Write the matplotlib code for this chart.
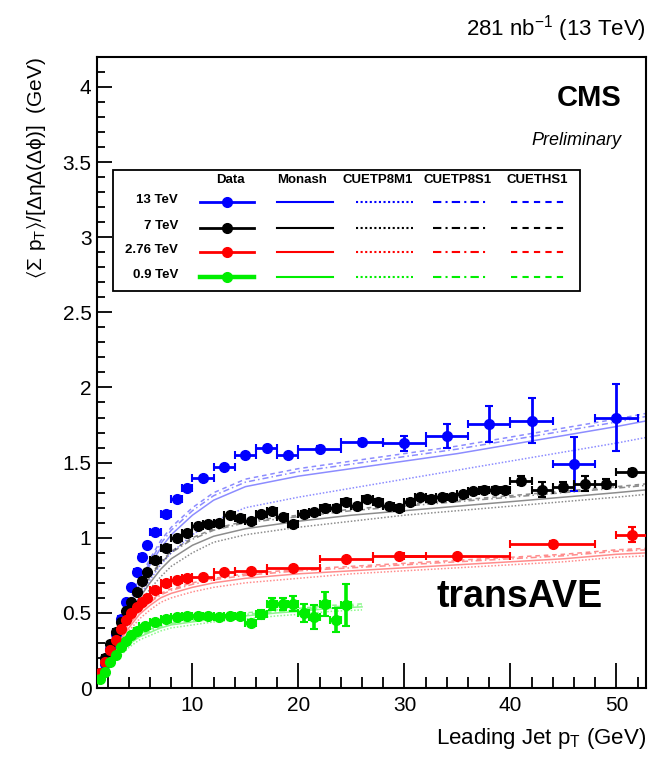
import matplotlib
matplotlib.use("Agg")
import matplotlib.pyplot as plt
from matplotlib.patches import Rectangle
from matplotlib.ticker import MultipleLocator, FuncFormatter

plt.rcParams['font.family'] = ['Liberation Sans Narrow', 'Liberation Sans', 'DejaVu Sans']
plt.rcParams['mathtext.default'] = 'regular'

# ---- data ----
x13 = [1.25, 1.75, 2.25, 2.75, 3.25, 3.75, 4.25, 4.75, 5.25, 5.75, 6.5, 7.5, 8.5, 9.5,
       11, 13, 15, 17, 19, 22, 26, 30, 34, 38, 42, 46, 50]
y13 = [0.08, 0.16, 0.26, 0.36, 0.46, 0.57, 0.67, 0.77, 0.87, 0.95, 1.04, 1.16, 1.26, 1.33,
       1.40, 1.47, 1.55, 1.60, 1.55, 1.59, 1.64, 1.63, 1.68, 1.76, 1.78, 1.49, 1.80]
xe13 = [0.25] * 10 + [0.5] * 4 + [1] * 5 + [2] * 8
ye13 = [0.01] * 19 + [0.02, 0.02, 0.05, 0.08, 0.12, 0.15, 0.18, 0.22]

x7 = [1.25, 1.75, 2.25, 2.75, 3.25, 3.75, 4.25, 4.75, 5.25, 5.75,
      6.5, 7.5, 8.5, 9.5, 10.5, 11.5, 12.5, 13.5, 14.5, 15.5, 16.5, 17.5, 18.5, 19.5,
      20.5, 21.5, 22.5, 23.5, 24.5, 25.5, 26.5, 27.5, 28.5, 29.5, 30.5, 31.5, 32.5,
      33.5, 34.5, 35.5, 36.5, 37.5, 38.5, 39.5, 41, 43, 45, 47, 49, 51.5]
y7 = [0.10, 0.20, 0.29, 0.37, 0.44, 0.51, 0.57, 0.64, 0.71, 0.77,
      0.85, 0.93, 1.00, 1.03, 1.08, 1.09, 1.10, 1.15, 1.13, 1.11, 1.16, 1.18, 1.14, 1.09,
      1.16, 1.17, 1.20, 1.20, 1.24, 1.21, 1.26, 1.24, 1.21, 1.20, 1.24, 1.27, 1.26,
      1.27, 1.27, 1.29, 1.31, 1.32, 1.32, 1.32, 1.38, 1.32, 1.34, 1.36, 1.36, 1.44]
xe7 = [0.25] * 10 + [0.5] * 34 + [1] * 5 + [1.5]
ye7 = [0.01] * 24 + [0.015] * 20 + [0.03, 0.05, 0.03, 0.05, 0.03, 0.02]

x276 = [1.25, 1.75, 2.25, 2.75, 3.25, 3.75, 4.25, 4.75, 5.25, 5.75, 6.5, 7.5, 8.5, 9.5,
        11, 13, 15.5, 19.5, 24.5, 29.5, 35, 44, 51.5]
y276 = [0.10, 0.17, 0.25, 0.32, 0.39, 0.45, 0.50, 0.54, 0.57, 0.60, 0.65, 0.70, 0.72, 0.73,
        0.74, 0.77, 0.78, 0.80, 0.86, 0.88, 0.88, 0.96, 1.02]
xe276 = [0.25] * 10 + [0.5] * 4 + [1, 1, 1.5, 2.5, 2.5, 2.5, 5, 4, 1.5]
ye276 = [0.01] * 21 + [0.02, 0.05]

x09 = [1.25, 1.75, 2.25, 2.75, 3.25, 3.75, 4.25, 4.75, 5.5, 6.5, 7.5, 8.5, 9.5, 10.5,
       11.5, 12.5, 13.5, 14.5, 15.5, 16.5, 17.5, 18.5, 19.5, 20.5, 21.5, 22.5, 23.5, 24.5]
y09 = [0.06, 0.11, 0.17, 0.22, 0.27, 0.31, 0.35, 0.38, 0.41, 0.44, 0.46, 0.47, 0.48, 0.48,
       0.48, 0.47, 0.48, 0.48, 0.43, 0.49, 0.56, 0.56, 0.56, 0.50, 0.47, 0.56, 0.45, 0.55]
xe09 = [0.25] * 8 + [0.5] * 20
ye09 = [0.01] * 18 + [0.02, 0.03, 0.04, 0.04, 0.05, 0.06, 0.08, 0.08, 0.08, 0.14]

# MC predictions
mc_x = [1, 2, 3, 4, 5, 6, 7, 8, 10, 12, 15, 20, 25, 30, 35, 40, 45, 50, 53]
monash13 = [0.05, 0.21, 0.38, 0.54, 0.69, 0.82, 0.93, 1.02, 1.15, 1.25, 1.34, 1.41, 1.46, 1.51, 1.56, 1.62, 1.68, 1.74, 1.78]
m1_13 = [0.04, 0.19, 0.34, 0.48, 0.61, 0.72, 0.82, 0.90, 1.02, 1.11, 1.20, 1.27, 1.33, 1.39, 1.45, 1.51, 1.57, 1.63, 1.67]
s1_13 = [0.05, 0.22, 0.39, 0.56, 0.71, 0.84, 0.96, 1.05, 1.18, 1.28, 1.37, 1.44, 1.49, 1.54, 1.59, 1.65, 1.71, 1.77, 1.81]
hs1_13 = [0.05, 0.22, 0.40, 0.57, 0.73, 0.86, 0.98, 1.07, 1.20, 1.30, 1.39, 1.46, 1.51, 1.56, 1.61, 1.67, 1.73, 1.79, 1.83]

monash7 = [0.05, 0.19, 0.34, 0.48, 0.60, 0.70, 0.79, 0.86, 0.95, 1.01, 1.06, 1.11, 1.15, 1.18, 1.21, 1.24, 1.27, 1.30, 1.32]
m1_7 = [0.04, 0.18, 0.32, 0.45, 0.56, 0.66, 0.74, 0.81, 0.90, 0.97, 1.02, 1.07, 1.11, 1.15, 1.18, 1.21, 1.24, 1.27, 1.29]
s1_7 = [0.05, 0.20, 0.36, 0.50, 0.63, 0.74, 0.83, 0.90, 0.99, 1.05, 1.10, 1.14, 1.18, 1.21, 1.24, 1.27, 1.30, 1.33, 1.35]
hs1_7 = [0.05, 0.20, 0.36, 0.51, 0.64, 0.75, 0.84, 0.91, 1.00, 1.06, 1.11, 1.15, 1.19, 1.22, 1.25, 1.28, 1.31, 1.34, 1.36]

monash276 = [0.05, 0.17, 0.30, 0.40, 0.49, 0.55, 0.60, 0.63, 0.67, 0.70, 0.73, 0.76, 0.78, 0.80, 0.82, 0.84, 0.86, 0.89, 0.90]
m1_276 = [0.04, 0.16, 0.28, 0.38, 0.46, 0.52, 0.57, 0.60, 0.64, 0.67, 0.70, 0.73, 0.76, 0.78, 0.80, 0.82, 0.84, 0.87, 0.88]
s1_276 = [0.05, 0.18, 0.31, 0.42, 0.51, 0.57, 0.62, 0.65, 0.69, 0.72, 0.75, 0.78, 0.80, 0.82, 0.84, 0.86, 0.88, 0.91, 0.92]
hs1_276 = [0.05, 0.18, 0.32, 0.43, 0.52, 0.58, 0.63, 0.66, 0.70, 0.73, 0.76, 0.79, 0.81, 0.83, 0.85, 0.87, 0.89, 0.92, 0.93]

mc_x09 = [1, 2, 3, 4, 5, 6, 7, 8, 10, 12, 15, 18, 20, 23, 26]
monash09 = [0.04, 0.13, 0.22, 0.29, 0.34, 0.37, 0.40, 0.42, 0.44, 0.46, 0.48, 0.50, 0.51, 0.53, 0.54]
m1_09 = [0.03, 0.12, 0.20, 0.27, 0.32, 0.35, 0.38, 0.40, 0.42, 0.44, 0.46, 0.48, 0.49, 0.51, 0.52]
s1_09 = [0.04, 0.14, 0.23, 0.30, 0.35, 0.38, 0.41, 0.43, 0.45, 0.47, 0.49, 0.51, 0.52, 0.54, 0.55]
hs1_09 = [0.04, 0.14, 0.23, 0.31, 0.36, 0.39, 0.42, 0.44, 0.46, 0.48, 0.50, 0.52, 0.53, 0.55, 0.56]

energies = ["13 TeV", "7 TeV", "2.76 TeV", "0.9 TeV"]
tunes = ["Monash", "CUETP8M1", "CUETP8S1", "CUETHS1"]
colors = ["#0000ff", "#000000", "#ff0000", "#00ee00"]
styles = ["-", (0, (1, 1.2)), (0, (4, 2, 1, 2)), (0, (3, 2.5))]

data = [(x13, y13, xe13, ye13), (x7, y7, xe7, ye7),
        (x276, y276, xe276, ye276), (x09, y09, xe09, ye09)]
mc = [(mc_x, [monash13, m1_13, s1_13, hs1_13]),
      (mc_x, [monash7, m1_7, s1_7, hs1_7]),
      (mc_x, [monash276, m1_276, s1_276, hs1_276]),
      (mc_x09, [monash09, m1_09, s1_09, hs1_09])]

fig = plt.figure(figsize=(6.6, 7.58), dpi=100)
ax = fig.add_axes([0.147, 0.0923, 0.832, 0.8327])

for (xm, curves), c in zip(mc, colors):
    for yv, ls in zip(curves, styles):
        ax.plot(xm, yv, color=c, ls=ls, lw=1.1, alpha=0.45, zorder=2)

for (xd, yd, xe, ye), c in zip(data, colors):
    lw = 2.6 if c == "#00ee00" else 2.0
    ax.errorbar(xd, yd, xerr=xe, yerr=ye, fmt='o', color=c, ms=7, lw=lw,
                capsize=3, capthick=1.5, zorder=3)

ax.set_xlim(1, 52.8)
ax.set_ylim(0, 4.2)
ax.xaxis.set_major_locator(MultipleLocator(10))
ax.xaxis.set_minor_locator(MultipleLocator(2))
ax.yaxis.set_major_locator(MultipleLocator(0.5))
ax.yaxis.set_minor_locator(MultipleLocator(0.1))
ax.yaxis.set_major_formatter(FuncFormatter(lambda v, p: "%g" % v))
ax.tick_params(axis='both', which='both', direction='in', top=False, right=False,
               labelsize=15, width=1.3)
ax.tick_params(axis='x', which='major', length=18, pad=6)
ax.tick_params(axis='x', which='minor', length=8)
ax.tick_params(axis='y', which='major', length=11, pad=4)
ax.tick_params(axis='y', which='minor', length=6)
for s in ax.spines.values():
    s.set_linewidth(1.5)

ax.set_xlabel(r"Leading Jet $p_{T}$ (GeV)", fontsize=16, loc='right', labelpad=8)
ax.set_ylabel(r"$\langle\Sigma\ p_{T}\rangle/[\Delta\eta\Delta(\Delta\phi)]$  (GeV)",
              fontsize=15, loc='top', labelpad=10)

fig.text(0.979, 0.962, r"281 nb$^{-1}$ (13 TeV)", ha='right', va='center', fontsize=16)
ax.text(0.955, 0.935, "CMS", transform=ax.transAxes, ha='right', va='center',
        fontsize=21, fontweight='bold')
ax.text(0.955, 0.868, "Preliminary", transform=ax.transAxes, ha='right', va='center',
        fontsize=13, style='italic')
ax.text(0.92, 0.145, "transAVE", transform=ax.transAxes, ha='right', va='center',
        fontsize=27, fontweight='bold')

# ---- legend table, laid out in pixels of the original picture ----
def px(xp, yp):
    return ((xp - 97) / 549.0, (688 - yp) / 631.0)

x0, y0 = px(113, 291)
x1, y1 = px(580, 170)
ax.add_patch(Rectangle((x0, y0), x1 - x0, y1 - y0, transform=ax.transAxes,
                       fill=True, facecolor='white', edgecolor='black', lw=1.3,
                       zorder=5, clip_on=False))
heads = ["Data"] + tunes
head_x = [230, 302, 378, 457, 537]
for h, hx in zip(heads, head_x):
    hxa, hya = px(hx, 180)
    ax.text(hxa, hya, h, transform=ax.transAxes, ha='center', va='center',
            fontsize=9.5, fontweight='bold', zorder=6)
row_y = [202, 228, 252, 277]
seg = [(277, 333), (356, 413), (433, 488), (511, 567)]
for e, c, ry in zip(energies, colors, row_y):
    lx, ly = px(178, ry - 2)
    ax.text(lx, ly, e, transform=ax.transAxes, ha='right', va='center',
            fontsize=9.5, fontweight='bold', zorder=6)
    a, yy = px(200, ry)
    b, _ = px(254, ry)
    m, _ = px(227, ry)
    lw = 3.2 if c == "#00ee00" else 2.0
    ax.plot([a, b], [yy, yy], color=c, lw=lw, transform=ax.transAxes, zorder=6, clip_on=False)
    ax.plot([m], [yy], 'o', color=c, ms=7, transform=ax.transAxes, zorder=6, clip_on=False)
    for (sa, sb), ls in zip(seg, styles):
        a, _ = px(sa, ry)
        b, _ = px(sb, ry)
        ax.plot([a, b], [yy, yy], color=c, ls=ls, lw=1.5, transform=ax.transAxes,
                zorder=6, clip_on=False)

fig.savefig("out.png", dpi=100)
